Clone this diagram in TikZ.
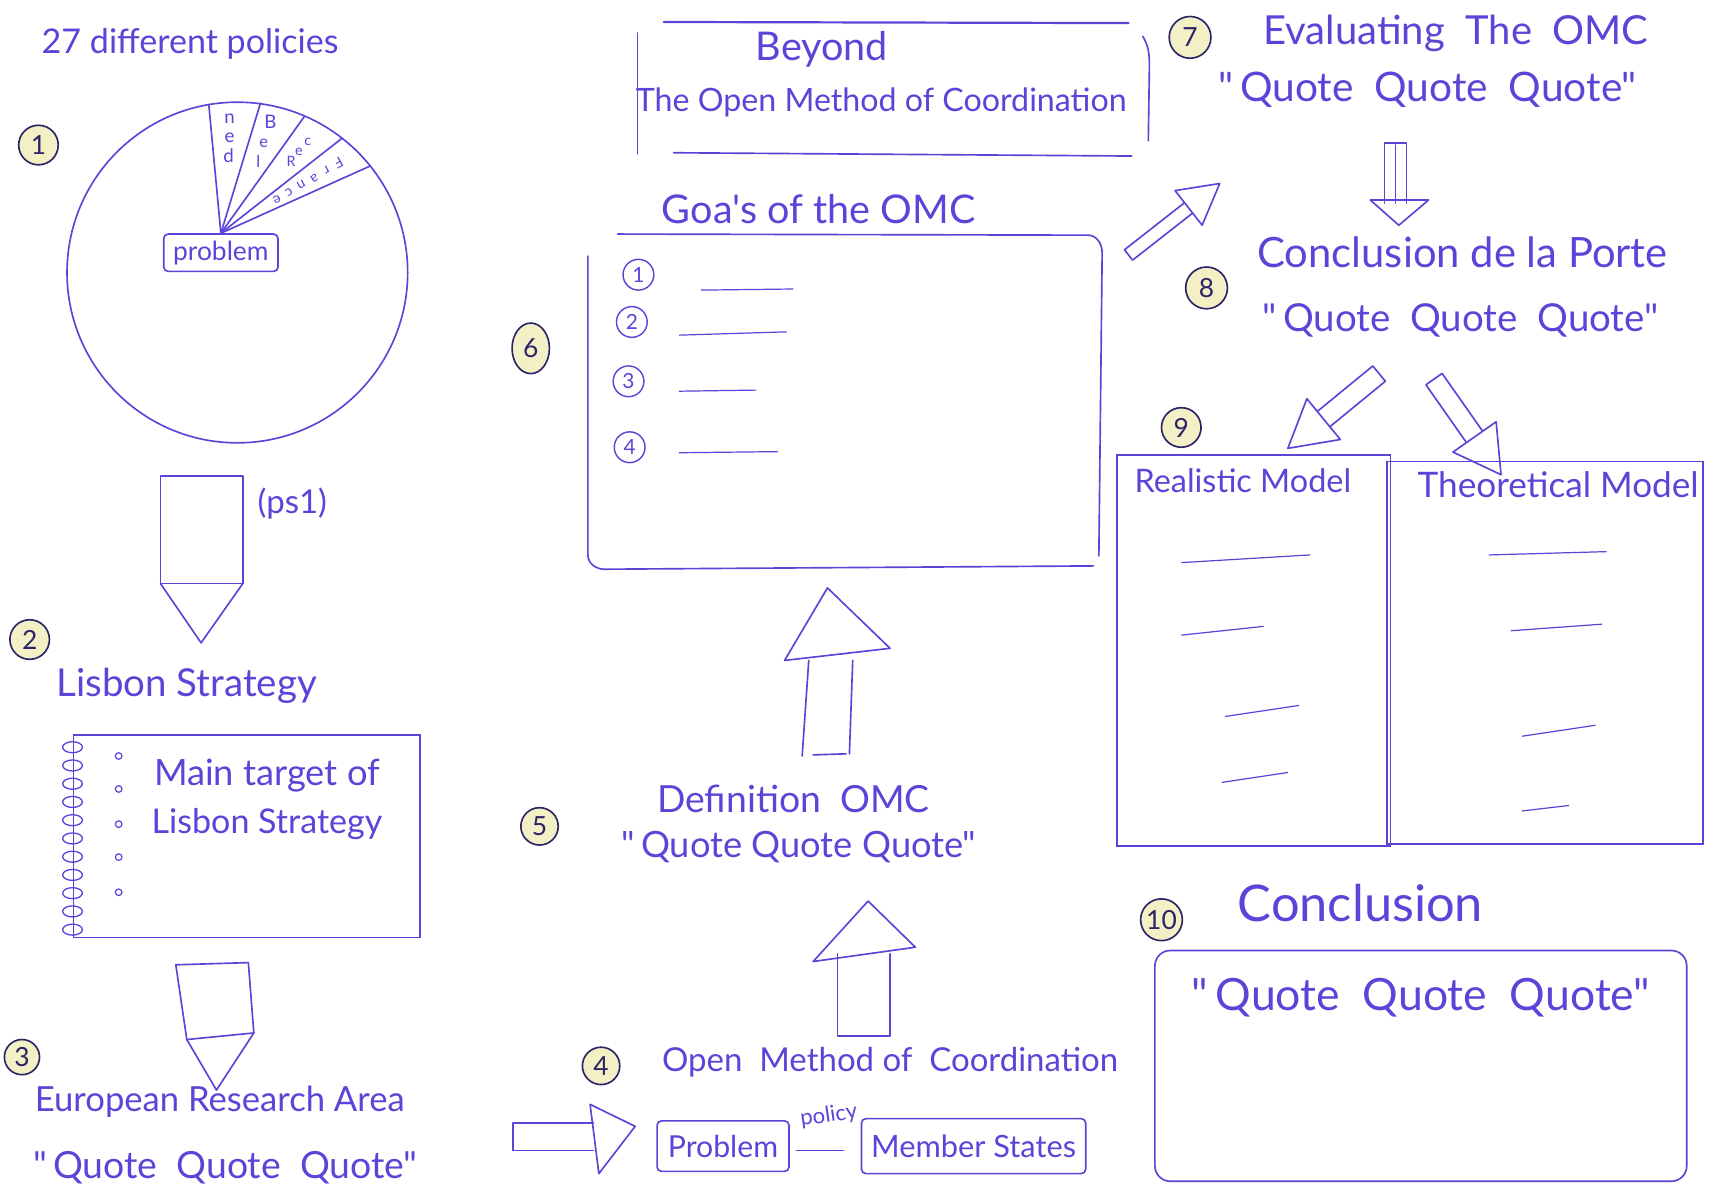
\documentclass[tikz,border=0pt]{standalone}
\usepackage{fontspec}
\setmainfont{Lato}[Ligatures=TeXOff]
\usetikzlibrary{calc,shapes.geometric}
\definecolor{ink}{HTML}{5B45D8}
\definecolor{badgefill}{HTML}{F4F0C6}
\definecolor{badgeink}{HTML}{2B2466}
\newcommand{\fs}[1]{\fontsize{#1}{#1}\selectfont}
\tikzset{
  inkline/.style={draw=ink, line width=1.5pt, line join=round, line cap=round},
  txt/.style={text=ink, inner sep=0pt},
  badge/.style={circle, draw=badgeink, fill=badgefill, line width=1.5pt, minimum size=36pt, inner sep=0pt, text=badgeink, font=\fs{24}},
  goalnum/.style={circle, draw=ink, line width=1.3pt, minimum size=28pt, inner sep=0pt, text=ink, font=\fs{19}},
  boxnode/.style={draw=ink, line width=1.5pt, rounded corners=4pt, text=ink, inner sep=0pt},
  plainbox/.style={draw=ink, line width=1.5pt, inner sep=0pt},
  slicelet/.style={txt, font=\fs{15}},
  flet/.style={txt, font=\fs{13}, rotate=209},
}
\newcommand{\blockarr}[5]{%
  \coordinate (ba-s) at #1; \coordinate (ba-t) at #2;
  \coordinate (ba-b) at ($(ba-t)!#5!(ba-s)$);
  \draw[inkline] ($(ba-s)!#3!90:(ba-t)$) -- ($(ba-b)!#3!-90:(ba-s)$) -- ($(ba-b)!#4!-90:(ba-s)$) -- (ba-t)
     -- ($(ba-b)!#4!90:(ba-s)$) -- ($(ba-b)!#3!90:(ba-s)$) -- ($(ba-s)!#3!-90:(ba-t)$) -- cycle;
  \draw[inkline] ($(ba-b)!#3!-90:(ba-s)$) -- ($(ba-b)!#3!90:(ba-s)$);
}
\begin{document}
\begin{tikzpicture}[x=1pt,y=-1pt]
\fill[white] (0,0) rectangle (1568,1087);
\useasboundingbox (0,0) rectangle (1568,1087);

% ---------- 1: pie ----------
\node[txt, font=\fs{31}] (title27) at (173,40) {27 different policies};
\node[badge] (b1) at (35,132) {1};
\draw[inkline] (216,248) circle[radius=155];
\node[boxnode, minimum width=104pt, minimum height=34pt, font=\fs{24}] (prob1) at (201,230) {problem};
\draw[inkline] (prob1.north) -- (190,95);
\draw[inkline] (prob1.north) -- (237,94);
\draw[inkline] (prob1.north) -- (277,106);
\draw[inkline] (prob1.north) -- (311,126);
\draw[inkline] (prob1.north) -- (337,151);
\node[slicelet, font=\fs{17}] (n1) at (209,108) {n};
\node[slicelet, font=\fs{17}] (n2) at (209,125) {e};
\node[slicelet, font=\fs{17}] (n3) at (208,142) {d};
\node[slicelet, font=\fs{17}] (b1l) at (246,111) {B};
\node[slicelet] (b2l) at (240,130) {e};
\node[slicelet] (b3l) at (235,147) {l};
\node[slicelet, font=\fs{13}] (r1) at (265,147) {R};
\node[slicelet, font=\fs{13}] (r2) at (272,138) {e};
\node[slicelet, font=\fs{13}] (r3) at (280,129) {c};
\node[flet] (f1) at (308,148) {F};
\node[flet] (f2) at (297,155) {r};
\node[flet] (f3) at (286,162) {a};
\node[flet] (f4) at (274,168) {n};
\node[flet] (f5) at (263,175) {c};
\node[flet] (f6) at (252,182) {e};

% ---------- arrow 1 ----------
\draw[inkline] (146,433) -- (221,433) -- (221,531) -- (146,531) -- cycle;
\draw[inkline] (146,531) -- (183,585) -- (221,531);
\node[txt, font=\fs{30}] (ps1) at (266,458) {(ps1)};

% ---------- 2: Lisbon ----------
\node[badge] (b2) at (27,582) {2};
\node[txt, font=\fs{35}] (lisbon) at (170,624) {Lisbon Strategy};
\node[plainbox, minimum width=315pt, minimum height=184pt] (lisbox) at (224.5,761) {};
\foreach \i in {0,...,10} \draw[inkline, line width=1.2pt] (66,{680+16.6*\i}) ellipse [x radius=9, y radius=5];
\foreach \yy in {688,718,750,780,812} \draw[ink, line width=1.1pt] (108,\yy) circle[radius=3];
\node[txt, font=\fs{33}] (main1) at (243,706) {Main target of};
\node[txt, font=\fs{31}] (main2) at (243,750) {Lisbon Strategy};

% ---------- arrow 2 ----------
\draw[inkline] (160,878) -- (226,876) -- (231,940) -- (170,946) -- cycle;
\draw[inkline] (170,946) -- (197,992) -- (231,940);

% ---------- 3: ERA ----------
\node[badge, minimum size=32pt] (b3) at (20,962) {3};
\node[txt, font=\fs{31.5}] (era) at (200,1003) {European Research Area};
\node[txt, font=\fs{34}] (eraq) at (205,1063) {"\,Quote \ Quote \ Quote"};

% ---------- arrow 3 ----------
\draw[inkline] (467,1022) -- (540,1022);
\draw[inkline] (467,1047) -- (540,1047);
\draw[inkline] (467,1022) -- (467,1047);
\draw[inkline] (537,1005) -- (578,1025) -- (545,1068) -- cycle;

% ---------- 4: OMC ----------
\node[badge, minimum size=34pt] (b4) at (547,970) {4};
\node[txt, font=\fs{30}] (omc4) at (810,967) {Open \ Method of \ Coordination};
\node[boxnode, minimum width=120pt, minimum height=46pt, font=\fs{27.5}] (prob2) at (658,1043) {Problem};
\node[boxnode, minimum width=204pt, minimum height=50pt, font=\fs{28}] (ms) at (886,1043) {Member States};
\draw[inkline, shorten <=6pt, shorten >=16pt] ($(prob2.east)+(0,4)$) -- node[txt, font=\fs{20}, rotate=8, pos=0.62, above=22pt] (pol) {policy} ($(ms.west)+(0,4)$);

% ---------- arrow 4 (up) ----------
\draw[inkline] (762,868) -- (762,943) -- (810,943) -- (810,868);
\draw[inkline] (740,875) -- (790,820) -- (833,862) -- cycle;

% ---------- 5: Definition ----------
\node[badge, minimum size=34pt] (b5) at (491,752) {5};
\node[txt, font=\fs{34}] (def) at (722,727) {Definition \ OMC};
\node[txt, font=\fs{33}] (defq) at (727,771) {"\,Quote Quote Quote"};

% ---------- arrow 5 (up) ----------
\draw[inkline] (730,688) -- (736,601);
\draw[inkline] (776,601) -- (773,686);
\draw[inkline] (740,687) -- (770,686);
\draw[inkline] (714,601) -- (753,535) -- (810,590) -- cycle;

% ---------- 6: Goals ----------
\node[txt, font=\fs{36}] (goals) at (745,190) {Goa's of the OMC};
\node[badge, ellipse, minimum width=34pt, minimum height=46pt] (b6) at (483,317) {6};
\draw[inkline] (562,213) -- (990,214) to[out=0,in=90] (1003,230) -- (1000,506);
\draw[inkline] (535,233) -- (535,505) to[out=-90,in=180] (550,518) -- (995,515);
\node[goalnum] (g1) at (581,250) {1};
\node[goalnum] (g2) at (575,293) {2};
\node[goalnum] (g3) at (572,347) {3};
\node[goalnum] (g4) at (573,407) {4};
\draw[ink, line width=1.1pt] (638,264) -- (722,263);
\draw[ink, line width=1.1pt] (618,305) -- (716,302);
\draw[ink, line width=1.1pt] (618,356) -- (688,355);
\draw[ink, line width=1.1pt] (618,412) -- (708,411);

% ---------- title ----------
\draw[inkline, line width=2pt] (604,20) -- (1027,21);
\draw[inkline] (580,30) -- (580,140);
\draw[inkline] (613,139) -- (1030,142);
\draw[inkline] (1040,33) to[out=-60,in=90] (1046,60) -- (1045,128);
\node[txt, font=\fs{36}] (beyond) at (748,45) {Beyond};
\node[txt, font=\fs{29.3}] (tomc) at (802,93) {The Open Method of Coordination};

% ---------- arrow 6 ----------
\blockarr{(1027,232)}{(1110,167)}{6pt}{20pt}{36pt}

% ---------- 7 ----------
\node[badge, minimum size=38pt] (b7) at (1083,34) {7};
\node[txt, font=\fs{36.4}] (eval) at (1325,30) {Evaluating \ The \ OMC};
\node[txt, font=\fs{37}] (evalq) at (1299,82) {"\,Quote \ Quote \ Quote"};

% ---------- arrow 7 ----------
\draw[inkline] (1260,185) -- (1260,130) -- (1280,130) -- (1280,185);
\draw[inkline] (1270,132) -- (1270,185);
\draw[inkline] (1247,182) -- (1300,182) -- (1273,205) -- cycle;

% ---------- 8 ----------
\node[badge, minimum size=38pt] (b8) at (1098,262) {8};
\node[txt, font=\fs{38}] (concl8) at (1331,230) {Conclusion de la Porte};
\node[txt, font=\fs{35}] (concl8q) at (1329,292) {"\,Quote \ Quote \ Quote"};

% ---------- arrows 8 ----------
\blockarr{(1255,340)}{(1172,408)}{9pt}{24pt}{42pt}
\blockarr{(1305,345)}{(1366,432)}{9pt}{24pt}{42pt}

% ---------- 9: models ----------
\node[badge, minimum size=36pt] (b9) at (1075,389) {9};
\node[plainbox, minimum width=249pt, minimum height=356pt] (real) at (1141,592) {};
\node[plainbox, minimum width=287pt, minimum height=348pt] (theo) at (1406,594) {};
\node[txt, font=\fs{29.5}] (realt) at (1131,437) {Realistic Model};
\node[txt, font=\fs{32}] (theot) at (1418,441) {Theoretical Model};
\draw[ink, line width=1.1pt] (1075,512) -- (1192,505);
\draw[ink, line width=1.1pt] (1075,578) -- (1150,570);
\draw[ink, line width=1.1pt] (1115,652) -- (1182,642);
\draw[ink, line width=1.1pt] (1112,712) -- (1172,703);
\draw[ink, line width=1.1pt] (1355,505) -- (1462,502);
\draw[ink, line width=1.1pt] (1375,574) -- (1458,568);
\draw[ink, line width=1.1pt] (1385,670) -- (1452,660);
\draw[ink, line width=1.1pt] (1385,738) -- (1428,733);

% ---------- 10: conclusion ----------
\node[badge, minimum size=38pt] (b10) at (1057,837) {10};
\node[txt, font=\fs{46}] (concl) at (1238,822) {Conclusion};
\node[boxnode, rounded corners=14pt, minimum width=484pt, minimum height=210pt] (concbox) at (1293,970) {};
\node[txt, font=\fs{40.5}] (conclq) at (1293,908) {"\,Quote \ Quote \ Quote"};
\end{tikzpicture}
\end{document}
